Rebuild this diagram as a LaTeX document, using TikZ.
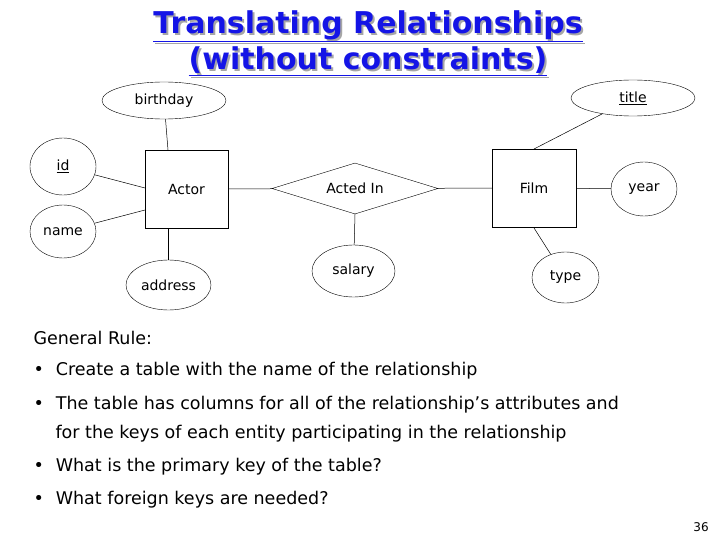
\documentclass[tikz,border=0pt]{standalone}
\usepackage{fontspec}
\setmainfont{DejaVu Sans}
\usetikzlibrary{shapes.geometric}
\definecolor{tblue}{RGB}{20,20,230}
\begin{document}
\begin{tikzpicture}[x=1pt,y=-1pt,
  attr/.style={draw,ellipse,inner sep=0pt,font=\fontsize{14}{16}\selectfont},
  ent/.style={draw,rectangle,inner sep=0pt,font=\fontsize{14}{16}\selectfont},
  rel/.style={draw,diamond,aspect=3.2,inner sep=0pt,font=\fontsize{14}{16}\selectfont},
  body/.style={anchor=west,font=\fontsize{17.5}{29}\selectfont,align=left},
  lnk/.style={draw,line width=0.5pt}]
\useasboundingbox (0,0) rectangle (720,540);
% title
\node[text=gray!70,font=\bfseries\fontsize{30}{36}\selectfont,align=center] (tsh) at (370,45)
  {\underline{Translating Relationships}\\\underline{(without constraints)}};
\node[text=tblue,font=\bfseries\fontsize{30}{36}\selectfont,align=center] (tt) at (368,43)
  {\underline{Translating Relationships}\\\underline{(without constraints)}};
\node[ent,minimum width=83pt,minimum height=78pt] (actor) at (186.5,189) {Actor};
\node[ent,minimum width=84pt,minimum height=78pt] (film) at (534,188) {Film};
\node[rel,minimum width=166pt,minimum height=51pt] (acted) at (355,188.5) {Acted In};
\node[attr,minimum width=124pt,minimum height=37pt] (birthday) at (164,100.5) {birthday};
\node[attr,minimum width=124pt,minimum height=36pt] (title) at (633,98) {\underline{title}};
\node[attr,minimum width=66pt,minimum height=57pt] (id) at (63,166.5) {\underline{id}};
\node[attr,minimum width=66pt,minimum height=53pt] (name) at (63,231.5) {name};
\node[attr,minimum width=85pt,minimum height=50pt] (address) at (168.5,285) {address};
\node[attr,minimum width=83pt,minimum height=52pt] (salary) at (353.5,271) {salary};
\node[attr,minimum width=67pt,minimum height=51pt] (type) at (565.5,277.5) {type};
\node[attr,minimum width=66pt,minimum height=54pt] (year) at (644,189) {year};
\draw[lnk] (birthday) -- (168,150);
\draw[lnk] (id) -- (145,188);
\draw[lnk] (name) -- (145,210);
\draw[lnk] (actor.south -| address) -- (address);
\draw[lnk] (actor) -- (acted);
\draw[lnk] (acted) -- (film);
\draw[lnk] (acted.south) -- (salary);
\draw[lnk] (title) -- (534,149);
\draw[lnk] (film) -- (year);
\draw[lnk] (534,228) -- (type);
% text
\node[body] (gr) at (30,338) {General Rule:};
\node[body] (b1) at (30,371) {•\hspace{12pt}Create a table with the name of the relationship};
\node[body] (b2) at (30,419) {•\hspace{12pt}The table has columns for all of the relationship's attributes and\\\hspace{22pt}for the keys of each entity participating in the relationship};
\node[body] (b3) at (30,467) {•\hspace{12pt}What is the primary key of the table?};
\node[body] (b4) at (30,500) {•\hspace{12pt}What foreign keys are needed?};
\node[font=\fontsize{12}{14}\selectfont] (pg) at (701,527) {36};
\end{tikzpicture}
\end{document}
